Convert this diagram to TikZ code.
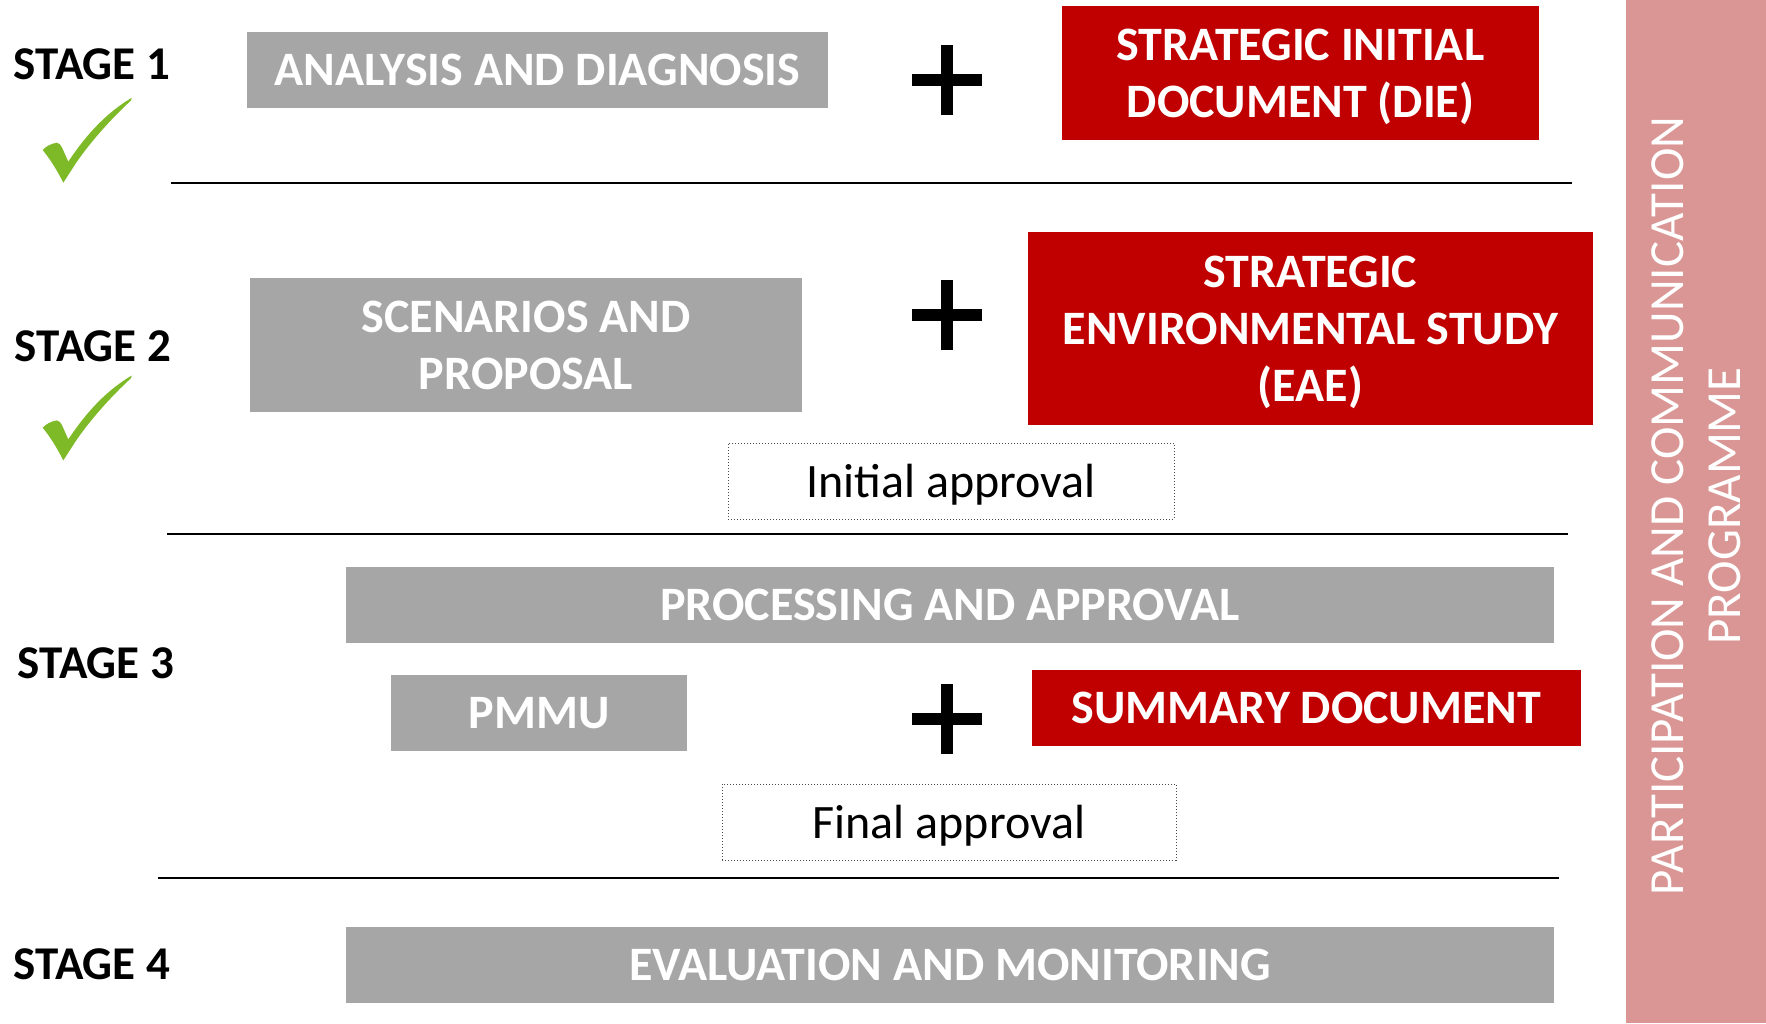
\documentclass[tikz,border=0pt]{standalone}
\usepackage{fontspec}
\usetikzlibrary{calc}
\setmainfont{Carlito}
\definecolor{boxgrey}{RGB}{166,166,166}
\definecolor{boxred}{RGB}{192,0,0}
\definecolor{barpink}{RGB}{217,150,148}
\definecolor{checkgreen}{RGB}{126,185,40}
\begin{document}
\begin{tikzpicture}[x=0.5pt,y=-0.5pt,
  greybox/.style={fill=boxgrey,draw=none,text=white,inner sep=0pt,align=center,text depth=0pt,
    font=\fontsize{24}{28.5}\selectfont\bfseries},
  redbox/.style={fill=boxred,draw=none,text=white,inner sep=0pt,align=center,text depth=0pt,
    font=\fontsize{24}{28.5}\selectfont\bfseries},
  approvalbox/.style={draw=black!70,densely dotted,line width=0.5pt,fill=white,inner sep=0pt,
    text depth=0pt,font=\fontsize{24}{28}\selectfont},
  stagelabel/.style={inner sep=0pt,text depth=0pt,font=\fontsize{23.5}{28}\selectfont\bfseries},
  sepline/.style={line width=1pt,black},
  plusbar/.style={fill=black,draw=none}]
\useasboundingbox (0,0) rectangle (1766,1023);
% right bar
\fill[barpink] (1626,0) rectangle (1766,1023);
\node[rotate=90,text=white,align=center,inner sep=0pt,font=\fontsize{24.5}{28.5}\selectfont] (prog) at (1696,506)
  {PARTICIPATION AND COMMUNICATION\\PROGRAMME};
% stage labels
\node[stagelabel] (s1) at (92,64) {STAGE 1};
\node[stagelabel] (s2) at (93,346) {STAGE 2};
\node[stagelabel] (s3) at (96,663) {STAGE 3};
\node[stagelabel] (s4) at (92,964) {STAGE 4};
% check marks
\foreach \dy in {0,277.7}{
\fill[checkgreen,shift={(0,\dy)}] (42.7,150) .. controls (46,146.5) and (50,144) .. (56.7,142.7)
  .. controls (59,143) and (61,145) .. (62,147.5) -- (68.3,161.7)
  .. controls (88,132) and (108,112) .. (131.7,97.8) -- (131,100.5)
  .. controls (112,118) and (92,140) .. (76.7,162) -- (63.3,182.7)
  .. controls (57,170) and (50,159) .. cycle;
}
% stage 1
\node[greybox,minimum width=290.5pt,minimum height=38pt] (ana) at (537.5,70) {ANALYSIS AND DIAGNOSIS};
\node[redbox,minimum width=238.5pt,minimum height=67pt] (die) at (1300.5,73) {STRATEGIC INITIAL\\DOCUMENT (DIE)};
\coordinate (p1) at (947,80);
\fill[plusbar] ($(p1)+(-35,-6.2)$) rectangle ($(p1)+(35,6.2)$);
\fill[plusbar] ($(p1)+(-6.2,-35)$) rectangle ($(p1)+(6.2,35)$);
\coordinate (l1a) at (171,183); \coordinate (l1b) at (1572,183);
\draw[sepline] (l1a) -- (l1b);
% stage 2
\node[greybox,minimum width=276pt,minimum height=67pt] (scen) at (526,345) {SCENARIOS AND\\PROPOSAL};
\node[redbox,minimum width=282.5pt,minimum height=96.5pt] (eae) at (1310.5,328.5) {STRATEGIC\\ENVIRONMENTAL STUDY\\(EAE)};
\coordinate (p2) at (947,315);
\fill[plusbar] ($(p2)+(-35,-6.2)$) rectangle ($(p2)+(35,6.2)$);
\fill[plusbar] ($(p2)+(-6.2,-35)$) rectangle ($(p2)+(6.2,35)$);
\node[approvalbox,minimum width=223pt,minimum height=38pt] (ini) at (951,481) {Initial approval};
\coordinate (l2a) at (167,534); \coordinate (l2b) at (1568,534);
\draw[sepline] (l2a) -- (l2b);
% stage 3
\node[greybox,minimum width=604pt,minimum height=38pt] (proc) at (950,605) {PROCESSING AND APPROVAL};
\node[greybox,minimum width=148pt,minimum height=38pt] (pmmu) at (539,713) {PMMU};
\node[redbox,minimum width=274.5pt,minimum height=38pt] (sum) at (1306.5,708) {SUMMARY DOCUMENT};
\coordinate (p3) at (947,719);
\fill[plusbar] ($(p3)+(-35,-6.2)$) rectangle ($(p3)+(35,6.2)$);
\fill[plusbar] ($(p3)+(-6.2,-35)$) rectangle ($(p3)+(6.2,35)$);
\node[approvalbox,minimum width=227pt,minimum height=38pt] (fin) at (949,822) {Final approval};
\coordinate (l3a) at (158,878); \coordinate (l3b) at (1559,878);
\draw[sepline] (l3a) -- (l3b);
% stage 4
\node[greybox,minimum width=604pt,minimum height=38pt] (eval) at (950,965) {EVALUATION AND MONITORING};
\end{tikzpicture}
\end{document}
